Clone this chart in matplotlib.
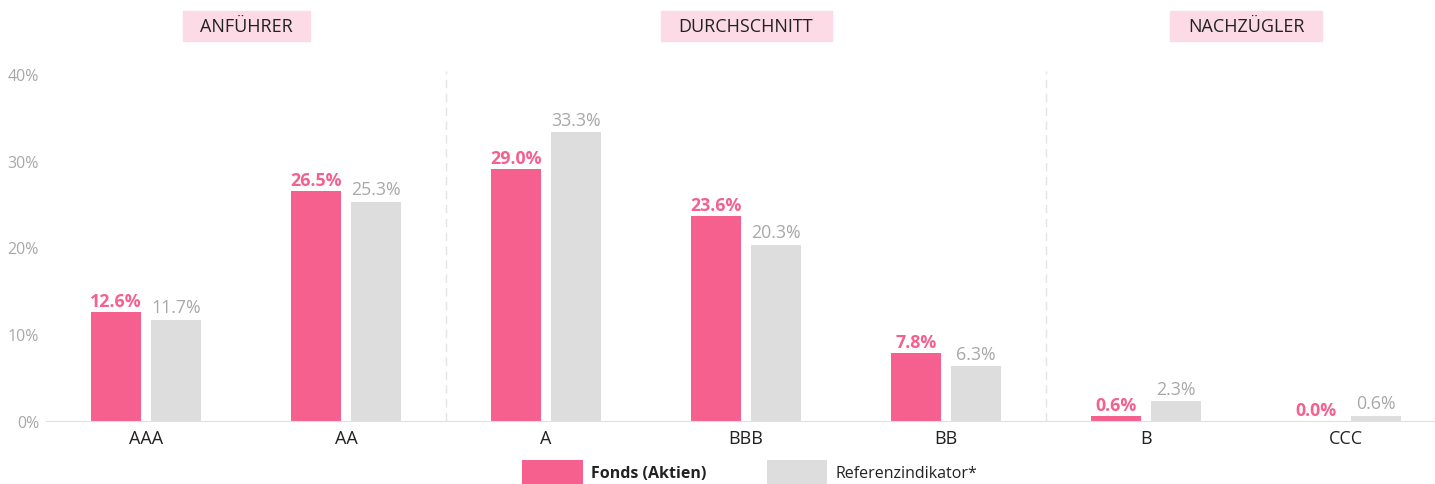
import numpy as np
import matplotlib.pyplot as plt
from matplotlib.patches import Rectangle
import matplotlib.transforms as mtransforms

plt.rcParams['font.family'] = ['Open Sans', 'DejaVu Sans']

# data
ratings = ["AAA", "AA", "A", "BBB", "BB", "B", "CCC"]
fonds = [12.6, 26.5, 29.0, 23.6, 7.8, 0.6, 0.0]
referenz = [11.7, 25.3, 33.3, 20.3, 6.3, 2.3, 0.6]
groups = ["ANFÜHRER", "DURCHSCHNITT", "NACHZÜGLER"]
group_pos = [0.5, 3.0, 5.5]
group_box_w = [0.635, 0.855, 0.76]
separators = [1.5, 4.5]
yticks = [0, 10, 20, 30, 40]

pink = "#f5608e"
grey = "#dddddd"
label_grey = "#a8a8a8"
dark = "#222222"

fig = plt.figure(figsize=(14.35, 4.85), dpi=100)
ax = fig.add_axes([46 / 1435, 63 / 485, 1389 / 1435, 347 / 485])

x = np.arange(len(ratings))
w = 0.25
off = 0.15
ax.bar(x - off, fonds, width=w, color=pink, label="Fonds (Aktien)")
ax.bar(x + off, referenz, width=w, color=grey, label="Referenzindikator*")

for xi, v in zip(x, fonds):
    ax.annotate(f"{v:.1f}%", (xi - off, v), xytext=(0, 1.5), textcoords="offset points",
                ha="center", va="bottom", color=pink, fontsize=12.8, fontweight="bold")
for xi, v in zip(x, referenz):
    ax.annotate(f"{v:.1f}%", (xi + off, v), xytext=(0, 2.5), textcoords="offset points",
                ha="center", va="bottom", color=label_grey, fontsize=12.8)

for s in separators:
    ax.axvline(s, ymin=0, ymax=1.01, color="#e4e4e4", lw=1, ls=(0, (6, 4)), clip_on=False)

ax.set_xlim(-0.5, 6.445)
ax.set_ylim(0, 40)
ax.set_yticks(yticks)
ax.set_yticklabels([f"{t}%" for t in yticks], color=label_grey, fontsize=11.5)
ax.set_xticks(x)
ax.set_xticklabels(ratings, color=dark, fontsize=13)
ax.tick_params(axis="both", length=0)
ax.tick_params(axis="y", pad=5)
ax.tick_params(axis="x", pad=6)
for side in ["top", "right", "left"]:
    ax.spines[side].set_visible(False)
ax.spines["bottom"].set_color("#e0e0e0")

# group headers, x in data units, y in figure coords
trans = mtransforms.blended_transform_factory(ax.transData, fig.transFigure)
for g, gx, bw in zip(groups, group_pos, group_box_w):
    fig.patches.append(Rectangle((gx - bw / 2, 1 - 42 / 485), bw, 30 / 485,
                                 transform=trans, color="#fcdbe7", zorder=0))
    fig.text(gx, 1 - 27 / 485, g, transform=trans, ha="center", va="center",
             fontsize=13, color=dark)

leg = ax.legend(loc="upper center", bbox_to_anchor=(0.5065, -0.113), ncol=2, frameon=False,
                fontsize=11.5, handlelength=3.8, handleheight=1.9, columnspacing=3.8,
                handletextpad=0.5, borderpad=0, borderaxespad=0)
for t in leg.get_texts():
    t.set_color(dark)
leg.get_texts()[0].set_fontweight("bold")

fig.savefig("out.png", dpi=100)
